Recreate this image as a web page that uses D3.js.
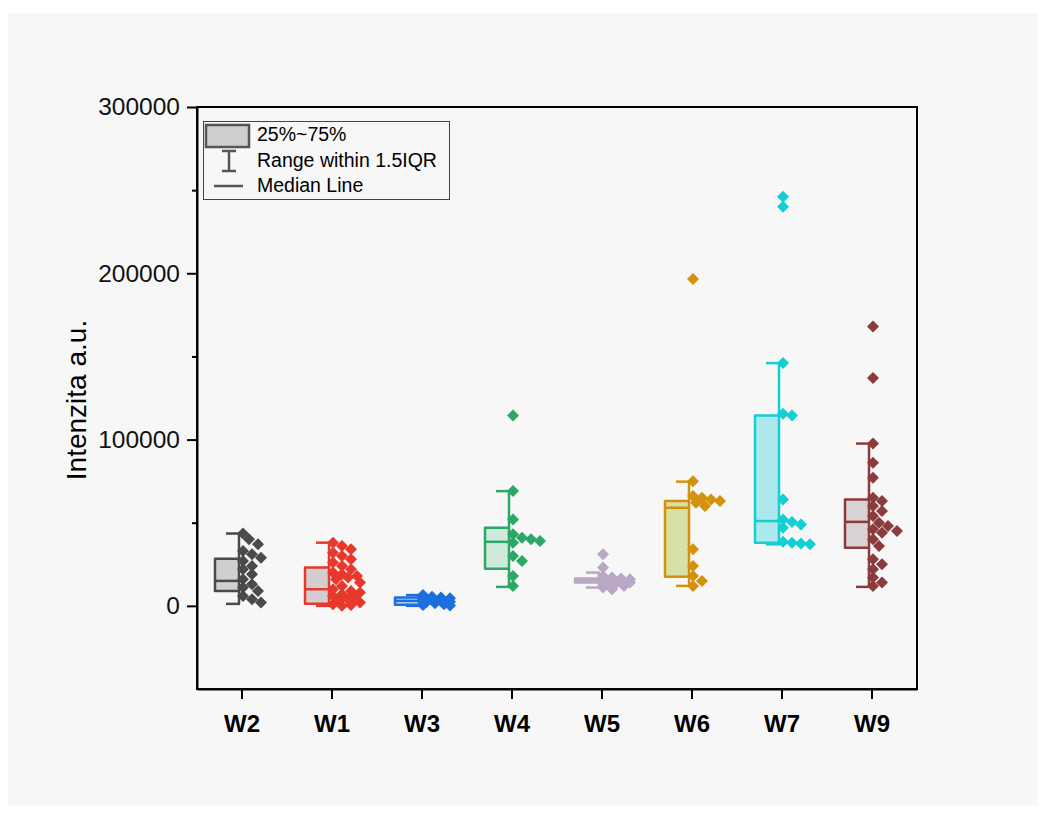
<!DOCTYPE html>
<html>
<head>
<meta charset="utf-8">
<script src="https://cdn.jsdelivr.net/npm/d3@7"></script>
<style>
  html, body { margin: 0; padding: 0; background: #ffffff; }
  svg { display: block; font-family: Arial, "Liberation Sans", sans-serif; }
</style>
</head>
<body>
<svg id="chart" width="1046" height="814"></svg>
<script>
// Groups shown along the x axis
const categories = ["W2", "W1", "W3", "W4", "W5", "W6", "W7", "W9"];

// Raw intensity measurements per group
const w2 = [43500, 40000, 37000, 33000, 31000, 29000, 27000, 24000, 22000, 19000, 16000, 13000, 11000, 9000, 6000, 4000, 2000];
const w1 = [38000, 36000, 34000, 32000, 30000, 28000, 26000, 24000, 22000, 20000, 19000, 18000, 17000, 16000, 14000, 12000, 10000, 9000, 8000, 7000, 6000, 5000, 4000, 3000, 2000, 1000, 500, 0];
const w3 = [6500, 5500, 5000, 4500, 4000, 3500, 3000, 2500, 2000, 1500, 1000, 500, 200];
const w4 = [114500, 69000, 52000, 43000, 41000, 40000, 39000, 38000, 30000, 27000, 18000, 12000];
const w5 = [31000, 23000, 18000, 17000, 16500, 16000, 15500, 15000, 14500, 14000, 13500, 13000, 12000, 11000, 10000];
const w6 = [196500, 75000, 66000, 65000, 64000, 63000, 62000, 60000, 34000, 24000, 18000, 15000, 12000];
const w7 = [246000, 240000, 146000, 115500, 114500, 64000, 52000, 50500, 49000, 47000, 38500, 38000, 37500, 37000];
const w9 = [168000, 137000, 97600, 86000, 77000, 65000, 63000, 60000, 57000, 54000, 50000, 48000, 46000, 45000, 44000, 40000, 36000, 28000, 25000, 22000, 17000, 14000, 12000];
const seriesValues = [w2, w1, w3, w4, w5, w6, w7, w9];

// Box statistics per group (25%, median, 75%, whisker ends)
const q1 = [9000, 1200, 700, 22300, 14000, 17500, 38000, 35000];
const median = [15000, 10000, 3000, 38500, 15500, 59000, 51000, 50500];
const q3 = [28300, 23000, 5000, 47000, 16500, 63000, 114500, 64000];
const whiskerLow = [1200, 0, 0, 11400, 11000, 12000, 37000, 11400];
const whiskerHigh = [43500, 38000, 6500, 69000, 20000, 74700, 146000, 97600];

// Axis ticks
const yMajorTicks = [0, 100000, 200000, 300000];
const yMinorTicks = [50000, 150000, 250000];

// Per-group colours: outline / points, and box fill
const strokeColors = ["#4a4a4a", "#e8382c", "#1c6fe0", "#2ba766", "#b9a8c5", "#d4910d", "#12cfd3", "#8b3b3b"];
const fillColors = ["#cfcfcf", "#d3cdcf", "#bfd3ee", "#cfeadb", "#c7bad2", "#d9e0a6", "#ade9ec", "#d9d2d2"];

const svg = d3.select("#chart");

// Page panel
svg.append("rect").attr("x", 0).attr("y", 0).attr("width", 1046).attr("height", 814).attr("fill", "#ffffff");
svg.append("rect").attr("x", 8).attr("y", 13).attr("width", 1030).attr("height", 793).attr("fill", "#f7f7f7");

const plot = { left: 197, right: 917, top: 107, bottom: 689 };

const x = d3.scaleBand().domain(categories).range([plot.left, plot.right]).padding(0);
const y = d3.scaleLinear().domain([-50000, 300000]).range([plot.bottom, plot.top]);

// Boxes, whiskers, medians
const boxW = 24;
const g = svg.append("g");
categories.forEach((c, i) => {
  const cx = x(c) + x.bandwidth() / 2;
  const right = cx - 3;
  const left = right - boxW;
  const col = strokeColors[i];
  const grp = g.append("g");
  // whisker stems
  grp.append("line").attr("x1", right).attr("x2", right)
    .attr("y1", y(whiskerHigh[i])).attr("y2", y(q3[i]))
    .attr("stroke", col).attr("stroke-width", 2.5);
  grp.append("line").attr("x1", right).attr("x2", right)
    .attr("y1", y(q1[i])).attr("y2", y(whiskerLow[i]))
    .attr("stroke", col).attr("stroke-width", 2.5);
  // whisker caps
  [whiskerHigh[i], whiskerLow[i]].forEach(v => {
    grp.append("line").attr("x1", right - 13).attr("x2", right + 1)
      .attr("y1", y(v)).attr("y2", y(v))
      .attr("stroke", col).attr("stroke-width", 2.5);
  });
  // box
  grp.append("rect").attr("x", left).attr("y", y(q3[i]))
    .attr("width", boxW).attr("height", Math.max(1, y(q1[i]) - y(q3[i])))
    .attr("fill", fillColors[i]).attr("stroke", col).attr("stroke-width", 2.5)
    .attr("stroke-linejoin", "round");
  // median
  grp.append("line").attr("x1", left).attr("x2", right)
    .attr("y1", y(median[i])).attr("y2", y(median[i]))
    .attr("stroke", col).attr("stroke-width", 2.5);
});

// One-sided swarm layout of the raw points, to the right of each whisker.
// Points may overlap; the spread is limited to a fixed width.
function swarm(vals, x0) {
  const minDist = 8, step = 3, maxDx = 28;
  const placed = [];
  vals.slice().sort((a, b) => b - a).forEach(v => {
    const py = y(v);
    let best = 0, bestOverlap = Infinity;
    for (let dx = 0; dx <= maxDx; dx += step) {
      const overlap = placed.reduce((s, p) => {
        const d = Math.hypot(p.x - (x0 + dx), p.y - py);
        return s + (d < minDist ? (minDist - d) : 0);
      }, 0);
      if (overlap === 0) { best = dx; bestOverlap = 0; break; }
      if (overlap < bestOverlap) { bestOverlap = overlap; best = dx; }
    }
    placed.push({ v, x: x0 + best, y: py });
  });
  return placed;
}

const diamond = d3.symbol().type(d3.symbolSquare).size(72);
categories.forEach((c, i) => {
  const cx = x(c) + x.bandwidth() / 2;
  const pts = swarm(seriesValues[i], cx + 1);
  g.append("g").selectAll("path").data(pts).join("path")
    .attr("d", diamond)
    .attr("transform", d => `translate(${d.x},${d.y}) rotate(45)`)
    .attr("fill", strokeColors[i]);
});

// Frame
svg.append("rect").attr("x", plot.left).attr("y", plot.top)
  .attr("width", plot.right - plot.left).attr("height", plot.bottom - plot.top)
  .attr("fill", "none").attr("stroke", "#000").attr("stroke-width", 2);

// Y axis
const yAxis = svg.append("g").attr("transform", `translate(${plot.left},0)`)
  .call(d3.axisLeft(y).tickValues(yMajorTicks).tickSize(10).tickSizeOuter(0).tickPadding(7).tickFormat(d3.format("d")));
yAxis.select(".domain").attr("stroke-width", 2);
yAxis.selectAll(".tick line").attr("stroke-width", 2);
yAxis.selectAll(".tick text").attr("font-size", 24.5).attr("fill", "#111")
  .attr("font-family", "Arial, 'Liberation Sans', sans-serif");
const yMinor = svg.append("g").attr("transform", `translate(${plot.left},0)`)
  .call(d3.axisLeft(y).tickValues(yMinorTicks).tickSize(5).tickSizeOuter(0).tickFormat(""));
yMinor.select(".domain").remove();
yMinor.selectAll(".tick line").attr("stroke-width", 2);

// X axis
const xAxis = svg.append("g").attr("transform", `translate(0,${plot.bottom})`)
  .call(d3.axisBottom(x).tickSize(10).tickSizeOuter(0).tickPadding(16));
xAxis.select(".domain").attr("stroke-width", 2);
xAxis.selectAll(".tick line").attr("stroke-width", 2);
xAxis.selectAll(".tick text").attr("font-size", 24).attr("font-weight", "bold").attr("fill", "#000")
  .attr("font-family", "Arial, 'Liberation Sans', sans-serif");

// Y axis title
svg.append("text")
  .attr("transform", "translate(86,400) rotate(-90)")
  .attr("text-anchor", "middle")
  .attr("font-size", 28)
  .attr("fill", "#000")
  .text("Intenzita a.u.");

// Legend
const lg = svg.append("g");
lg.append("rect").attr("x", 203.5).attr("y", 121.5).attr("width", 246).attr("height", 78)
  .attr("fill", "#f7f7f7").attr("stroke", "#444").attr("stroke-width", 1);
lg.append("rect").attr("x", 206).attr("y", 125).attr("width", 43).attr("height", 22)
  .attr("fill", "#cfcfcf").attr("stroke", "#555").attr("stroke-width", 2.5);
lg.append("line").attr("x1", 229).attr("x2", 229).attr("y1", 151).attr("y2", 171)
  .attr("stroke", "#555").attr("stroke-width", 2.5);
lg.append("line").attr("x1", 222).attr("x2", 236).attr("y1", 151).attr("y2", 151)
  .attr("stroke", "#555").attr("stroke-width", 2.5);
lg.append("line").attr("x1", 222).attr("x2", 236).attr("y1", 171).attr("y2", 171)
  .attr("stroke", "#555").attr("stroke-width", 2.5);
lg.append("line").attr("x1", 214).attr("x2", 243).attr("y1", 186).attr("y2", 186)
  .attr("stroke", "#555").attr("stroke-width", 2.5);
const legendLabels = ["25%~75%", "Range within 1.5IQR", "Median Line"];
lg.selectAll("text.lab").data(legendLabels).join("text")
  .attr("class", "lab")
  .attr("x", 257).attr("y", (d, i) => 141 + i * 25.5)
  .attr("font-size", 19.5).attr("fill", "#000")
  .text(d => d);
</script>
</body>
</html>
